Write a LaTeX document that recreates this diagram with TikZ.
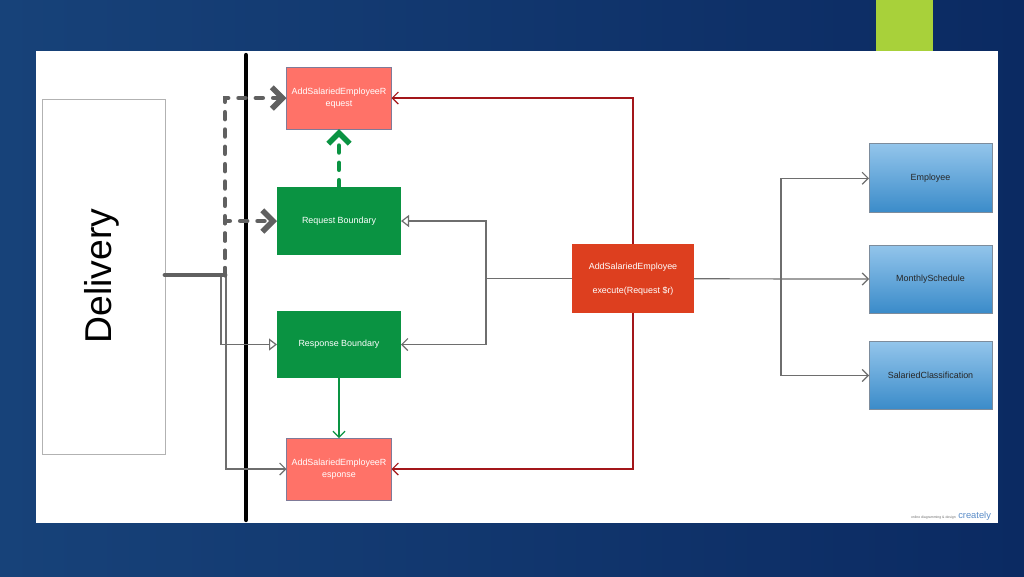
\documentclass[tikz,border=0pt]{standalone}
\usepackage{fontspec}
\setmainfont{Liberation Sans}
\usetikzlibrary{arrows.meta}
\definecolor{bgL}{HTML}{174279}
\definecolor{bgM}{HTML}{2C69A1}
\definecolor{bgR}{HTML}{0B2A62}
\definecolor{limeg}{HTML}{A8D13A}
\definecolor{salmon}{HTML}{FF7268}
\definecolor{salmonb}{HTML}{7F7A98}
\definecolor{bgreen}{HTML}{0A9342}
\definecolor{mainred}{HTML}{DD3F1F}
\definecolor{dred}{HTML}{A3161A}
\definecolor{gthick}{HTML}{606060}
\definecolor{gthin}{HTML}{6E6E6E}
\definecolor{bTop}{HTML}{93C5EB}
\definecolor{bBot}{HTML}{3A8BC9}
\definecolor{bBorder}{HTML}{7D8C9C}
\definecolor{wmblue}{HTML}{5A8CC8}
\begin{document}
\begin{tikzpicture}[x=0.75pt,y=-0.75pt,
  lbl/.style={font=\fontsize{6.7}{9}\selectfont, align=center},
  box/.style={lbl, inner sep=0pt, outer sep=0pt, text=white},
  salbox/.style={box, fill=salmon, draw=salmonb, line width=0.6pt, minimum width=78.75pt, minimum height=46.5pt},
  grbox/.style={box, fill=bgreen, minimum width=93pt, minimum height=51pt},
  bluebox/.style={lbl, inner sep=0pt, outer sep=0pt, text=black!85, top color=bTop, bottom color=bBot, draw=bBorder, line width=0.6pt, minimum width=92.25pt, minimum height=51.75pt},
  thickg/.style={draw=gthick, line width=3.6pt, line cap=round},
  dashg/.style={thickg, dash pattern=on 5pt off 8pt},
  bigtip/.style={-{Straight Barb[length=8pt,width=16pt,line width=4.2pt]}},
  thin/.style={draw=gthin, line width=0.9pt},
  barb/.style={-{Straight Barb[length=4.5pt,width=9pt]}},
  otri/.style={-{Triangle[open,length=6pt,width=9pt,fill=white]}}
]
% background
\shade[left color=bgL, middle color=bgM, right color=bgR] (0,0) rectangle (1024,576);
\fill[white] (36,51) rectangle (998,523);
\fill[limeg] (876,0) rectangle (933,51);
\useasboundingbox (0,0) rectangle (1024,576);

% delivery
\node[draw=black!30, fill=white, line width=0.7pt, minimum width=92.25pt, minimum height=266.25pt, inner sep=0pt, outer sep=0pt] (del) at (103.5,276.5) {};
\node[rotate=90, font=\fontsize{28}{28}\selectfont] (delt) at (102,276) {Delivery};

% black separator
\coordinate (sepT) at (246,55);
\coordinate (sepB) at (246,520);
\draw[line width=3.2pt, line cap=round] (sepT) -- (sepB);

% boxes
\node[salbox] (req) at (339,98) {AddSalariedEmployeeR\\equest};
\node[grbox] (reqb) at (339,221) {Request Boundary};
\node[grbox, minimum height=50.25pt] (respb) at (339,344.5) {Response Boundary};
\node[salbox] (resp) at (339,469) {AddSalariedEmployeeR\\esponse};
\node[box, fill=mainred, minimum width=91.5pt, minimum height=51.75pt] (main) at (633,278.8) {AddSalariedEmployee\\[9pt]execute(Request \$r)};
\node[bluebox] (emp) at (930.5,178.3) {Employee};
\node[bluebox, minimum height=51pt] (mon) at (930.5,279) {MonthlySchedule};
\node[bluebox, minimum height=51pt] (sal) at (930.5,375.5) {SalariedClassification};

% delivery connectors
\coordinate (J) at (225,275);
\coordinate (J1) at (221,275);
\coordinate (J2) at (226,275);
\draw[thin, otri] (J1) |- (respb.west);
\draw[thin, barb] (J2) |- (resp.west);
\draw[thickg] (del.east |- J) -- (J);
\draw[dashg, bigtip] (J) |- (req.west);
\draw[dashg, bigtip] (J) |- (reqb.west);

% green
\draw[dashg, draw=bgreen, bigtip] (reqb.north) -- (req.south);
\draw[draw=bgreen, line width=0.9pt, barb] (respb.south) -- (resp.north);

% red
\draw[draw=dred, line width=0.9pt, barb] (main.north) |- (req.east);
\draw[draw=dred, line width=0.9pt, barb] (main.south) |- (resp.east);

% main to boundaries
\coordinate (K) at (486,278.8);
\draw[thin] (main.west) -- (K);
\draw[thin, otri] (K) |- (reqb.east);
\draw[thin, barb] (K) |- (respb.east);

% main to entities
\coordinate (L) at (781,279);
\draw[thin, barb] (main.east) -- (mon.west);
\draw[thin, barb] (L) |- (emp.west);
\draw[thin, barb] (L) |- (sal.west);

% watermark
\node[font=\fontsize{2.6}{3}\selectfont, text=black!55, anchor=east, inner sep=0pt] (wm1) at (956,517.5) {online diagramming \& design};
\node[font=\fontsize{7}{7}\selectfont, text=wmblue, anchor=west, inner sep=0pt] (wm2) at (958,516) {creately};
\end{tikzpicture}
\end{document}
